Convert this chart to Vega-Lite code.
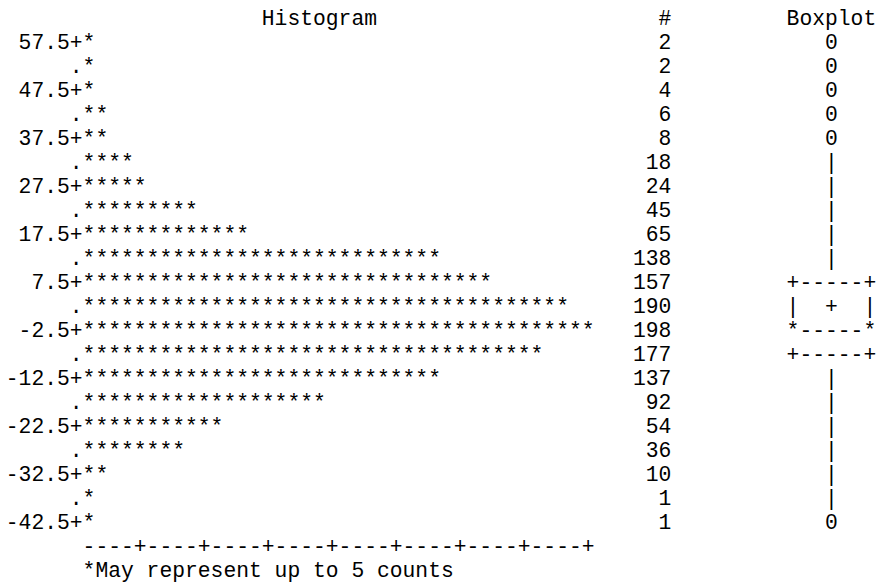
{
  "$schema": "https://vega.github.io/schema/vega-lite/v6.json",
  "width": 879,
  "height": 587,
  "autosize": {"type": "none"},
  "padding": 0,
  "background": "white",
  "config": {
    "view": {"stroke": null},
    "text": {"font": "Liberation Mono", "fontSize": 21.333, "baseline": "alphabetic", "color": "#000000"}
  },
  "datasets": {
    "bins": [
      {"mid": 57.5, "label": "57.5+", "count": 2, "bar": "*", "box": "0"},
      {"mid": 52.5, "label": ".", "count": 2, "bar": "*", "box": "0"},
      {"mid": 47.5, "label": "47.5+", "count": 4, "bar": "*", "box": "0"},
      {"mid": 42.5, "label": ".", "count": 6, "bar": "**", "box": "0"},
      {"mid": 37.5, "label": "37.5+", "count": 8, "bar": "**", "box": "0"},
      {"mid": 32.5, "label": ".", "count": 18, "bar": "****", "box": "|"},
      {"mid": 27.5, "label": "27.5+", "count": 24, "bar": "*****", "box": "|"},
      {"mid": 22.5, "label": ".", "count": 45, "bar": "*********", "box": "|"},
      {"mid": 17.5, "label": "17.5+", "count": 65, "bar": "*************", "box": "|"},
      {"mid": 12.5, "label": ".", "count": 138, "bar": "****************************", "box": "|"},
      {"mid": 7.5, "label": "7.5+", "count": 157, "bar": "********************************", "box": "+-----+"},
      {"mid": 2.5, "label": ".", "count": 190, "bar": "**************************************", "box": "|\u00a0\u00a0+\u00a0\u00a0|"},
      {"mid": -2.5, "label": "-2.5+", "count": 198, "bar": "****************************************", "box": "*-----*"},
      {"mid": -7.5, "label": ".", "count": 177, "bar": "************************************", "box": "+-----+"},
      {"mid": -12.5, "label": "-12.5+", "count": 137, "bar": "****************************", "box": "|"},
      {"mid": -17.5, "label": ".", "count": 92, "bar": "*******************", "box": "|"},
      {"mid": -22.5, "label": "-22.5+", "count": 54, "bar": "***********", "box": "|"},
      {"mid": -27.5, "label": ".", "count": 36, "bar": "********", "box": "|"},
      {"mid": -32.5, "label": "-32.5+", "count": 10, "bar": "**", "box": "|"},
      {"mid": -37.5, "label": ".", "count": 1, "bar": "*", "box": "|"},
      {"mid": -42.5, "label": "-42.5+", "count": 1, "bar": "*", "box": "0"}
    ],
    "captions": [
      {"t": "Histogram", "col": "hist"},
      {"t": "#", "col": "count"},
      {"t": "Boxplot", "col": "box"}
    ]
  },
  "layer": [
    {
      "data": {"name": "bins"},
      "mark": {"type": "text", "align": "right"},
      "encoding": {
        "x": {"datum": 6, "type": "quantitative", "scale": {"domain": [-0.453, 68.22], "nice": false, "zero": false}, "axis": null},
        "y": {"field": "mid", "type": "quantitative", "scale": {"domain": [-54.52, 67.77], "nice": false, "zero": false}, "axis": null},
        "text": {"field": "label"}
      }
    },
    {
      "data": {"name": "bins"},
      "mark": {"type": "text", "align": "left"},
      "encoding": {
        "x": {"datum": 6, "type": "quantitative"},
        "y": {"field": "mid", "type": "quantitative"},
        "text": {"field": "bar"}
      }
    },
    {
      "data": {"name": "bins"},
      "mark": {"type": "text", "align": "right"},
      "encoding": {
        "x": {"datum": 52, "type": "quantitative"},
        "y": {"field": "mid", "type": "quantitative"},
        "text": {"field": "count", "type": "quantitative", "format": "d"}
      }
    },
    {
      "data": {"name": "bins"},
      "mark": {"type": "text", "align": "center"},
      "encoding": {
        "x": {"datum": 64.5, "type": "quantitative"},
        "y": {"field": "mid", "type": "quantitative"},
        "text": {"field": "box"}
      }
    },
    {
      "data": {"name": "captions"},
      "transform": [{"filter": "datum.col === 'hist'"}],
      "mark": {"type": "text", "align": "left"},
      "encoding": {
        "x": {"datum": 20, "type": "quantitative"},
        "y": {"datum": 62.5, "type": "quantitative"},
        "text": {"field": "t"}
      }
    },
    {
      "data": {"name": "captions"},
      "transform": [{"filter": "datum.col === 'count'"}],
      "mark": {"type": "text", "align": "right"},
      "encoding": {
        "x": {"datum": 52, "type": "quantitative"},
        "y": {"datum": 62.5, "type": "quantitative"},
        "text": {"field": "t"}
      }
    },
    {
      "data": {"name": "captions"},
      "transform": [{"filter": "datum.col === 'box'"}],
      "mark": {"type": "text", "align": "left"},
      "encoding": {
        "x": {"datum": 61, "type": "quantitative"},
        "y": {"datum": 62.5, "type": "quantitative"},
        "text": {"field": "t"}
      }
    },
    {
      "data": {"values": [{"t": "----+----+----+----+----+----+----+----+"}]},
      "mark": {"type": "text", "align": "left"},
      "encoding": {
        "x": {"datum": 6, "type": "quantitative"},
        "y": {"datum": -47.5, "type": "quantitative"},
        "text": {"field": "t"}
      }
    },
    {
      "data": {"values": [{"t": "*May represent up to 5 counts"}]},
      "mark": {"type": "text", "align": "left"},
      "encoding": {
        "x": {"datum": 6, "type": "quantitative"},
        "y": {"datum": -52.5, "type": "quantitative"},
        "text": {"field": "t"}
      }
    }
  ]
}
